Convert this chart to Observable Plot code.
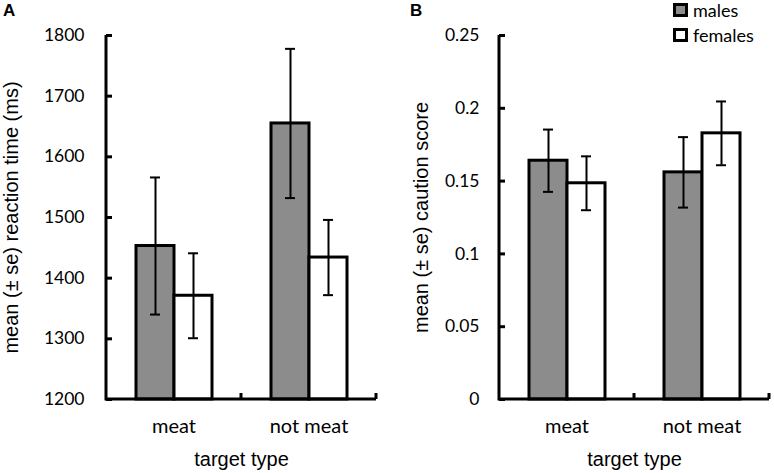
<!DOCTYPE html>
<html>
<head>
<meta charset="utf-8">
<script src="https://cdn.jsdelivr.net/npm/d3@7"></script>
<script src="https://cdn.jsdelivr.net/npm/@observablehq/plot@0.6"></script>
<style>
  body { margin: 0; background: #fff; }
  #wrap { position: relative; width: 774px; height: 473px; overflow: hidden; background: #fff; }
  .panel { position: absolute; top: 0; }
  .tag { position: absolute; z-index: 5; font: bold 17px "Liberation Sans", Arial, sans-serif; color: #000; }
  .legend { position: absolute; z-index: 5; left: 673px; top: -3px; font: 18px/18px Lato, sans-serif; color: #000; }
  .legend .item { display: flex; align-items: center; height: 25px; }
  .legend .sw { width: 9px; height: 8px; border: 3px solid #000; margin-right: 5px; }
  svg [aria-label="y-axis label"], svg [aria-label="fx-axis label"] { font-family: "Liberation Sans", Arial, sans-serif; font-size: 20px; }
  svg [aria-label="y-axis tick label"] { font-size: 17.5px; }
  svg [aria-label="fx-axis tick label"] { font-size: 20px; }
</style>
</head>
<body>
<div id="wrap">
  <div id="pA" class="panel" style="left:0px"></div>
  <div id="pB" class="panel" style="left:387px"></div>
  <div class="tag" style="left:3px;top:1px">A</div>
  <div class="tag" style="left:410px;top:1px">B</div>
  <div id="legend" class="legend"></div>
</div>
<script>
// ---- data ----
const categories = ["meat", "not meat"];
const groups = ["males", "females"];
const groupFills = ["#8c8c8c", "#ffffff"];

// Panel A: reaction time (ms)
const rtMales = [1453, 1655];
const rtFemales = [1371, 1434];
const rtSeMales = [113, 123];
const rtSeFemales = [70, 62];
const rtTicks = [1200, 1300, 1400, 1500, 1600, 1700, 1800];

// Panel B: caution score
const cautionMales = [0.164, 0.156];
const cautionFemales = [0.1485, 0.1828];
const cautionSeMales = [0.0214, 0.0242];
const cautionSeFemales = [0.0185, 0.0219];
const cautionTicks = [0, 0.05, 0.1, 0.15, 0.2, 0.25];

function rowsFrom(males, females, seM, seF) {
  const rows = [];
  categories.forEach((c, i) => {
    rows.push({category: c, group: "males", mean: males[i], se: seM[i]});
    rows.push({category: c, group: "females", mean: females[i], se: seF[i]});
  });
  return rows;
}

function panel(el, rows, ticks, yLabel, marginLeft, marginRight, tickPadding, labelOffset) {
  const ymin = ticks[0], ymax = ticks[ticks.length - 1];
  const chart = Plot.plot({
    width: 387,
    height: 473,
    marginTop: 35,
    marginBottom: 74,
    marginLeft,
    marginRight,
    style: {fontFamily: "Lato, sans-serif", background: "#fff", fontSize: "17.5px"},
    fx: {domain: categories, padding: 0},
    x: {domain: groups, paddingInner: 0, paddingOuter: 0.737, axis: null},
    y: {domain: [ymin, ymax], axis: null},
    color: {domain: groups, range: groupFills},
    marks: [
      Plot.barY(rows, {fx: "category", x: "group", y1: ymin, y2: "mean", fill: "group", stroke: "#000", strokeWidth: 3}),
      Plot.ruleX(rows, {fx: "category", x: "group", y1: d => d.mean - d.se, y2: d => d.mean + d.se, stroke: "#000", strokeWidth: 2}),
      Plot.tickY(rows, {fx: "category", x: "group", y: d => d.mean - d.se, insetLeft: 14, insetRight: 14, stroke: "#000", strokeWidth: 2}),
      Plot.tickY(rows, {fx: "category", x: "group", y: d => d.mean + d.se, insetLeft: 14, insetRight: 14, stroke: "#000", strokeWidth: 2}),
      Plot.axisY(ticks, {anchor: "left", tickSize: -6, tickPadding, strokeWidth: 3, fontSize: 17.5,
        tickFormat: d => String(d), label: yLabel, labelAnchor: "center", labelOffset, labelArrow: "none"}),
      Plot.axisFx({anchor: "bottom", tickSize: 0, tickPadding: 19, fontSize: 20,
        label: "target type", labelAnchor: "center", labelOffset: 66, labelArrow: "none"})
    ]
  });
  // axis lines and category boundary ticks, from the chart's own scales
  const fx = chart.scale("fx"), y = chart.scale("y");
  const left = fx.apply(categories[0]);
  const right = fx.apply(categories[categories.length - 1]) + fx.bandwidth;
  const yb = y.apply(ymin), yt = y.apply(ymax);
  const g = d3.select(chart).append("g").attr("stroke", "#000").attr("stroke-width", 3).attr("fill", "none");
  g.append("path").attr("d", `M${left},${yt}V${yb}H${right}`);
  categories.forEach(c => {
    const xb = fx.apply(c) + fx.bandwidth;
    g.append("line").attr("x1", xb).attr("x2", xb).attr("y1", yb).attr("y2", yb - 6);
  });
  document.getElementById(el).appendChild(chart);
}

panel("pA", rowsFrom(rtMales, rtFemales, rtSeMales, rtSeFemales), rtTicks,
  "mean (± se) reaction time (ms)", 105, 11, 28, 103);
panel("pB", rowsFrom(cautionMales, cautionFemales, cautionSeMales, cautionSeFemales), cautionTicks,
  "mean (± se) caution score", 111, 5, 26, 86);

// legend
const lg = document.getElementById("legend");
groups.forEach((gname, i) => {
  const item = document.createElement("div");
  item.className = "item";
  const sw = document.createElement("div");
  sw.className = "sw";
  sw.style.background = groupFills[i];
  const t = document.createElement("span");
  t.textContent = gname;
  item.appendChild(sw);
  item.appendChild(t);
  lg.appendChild(item);
});
</script>
</body>
</html>
